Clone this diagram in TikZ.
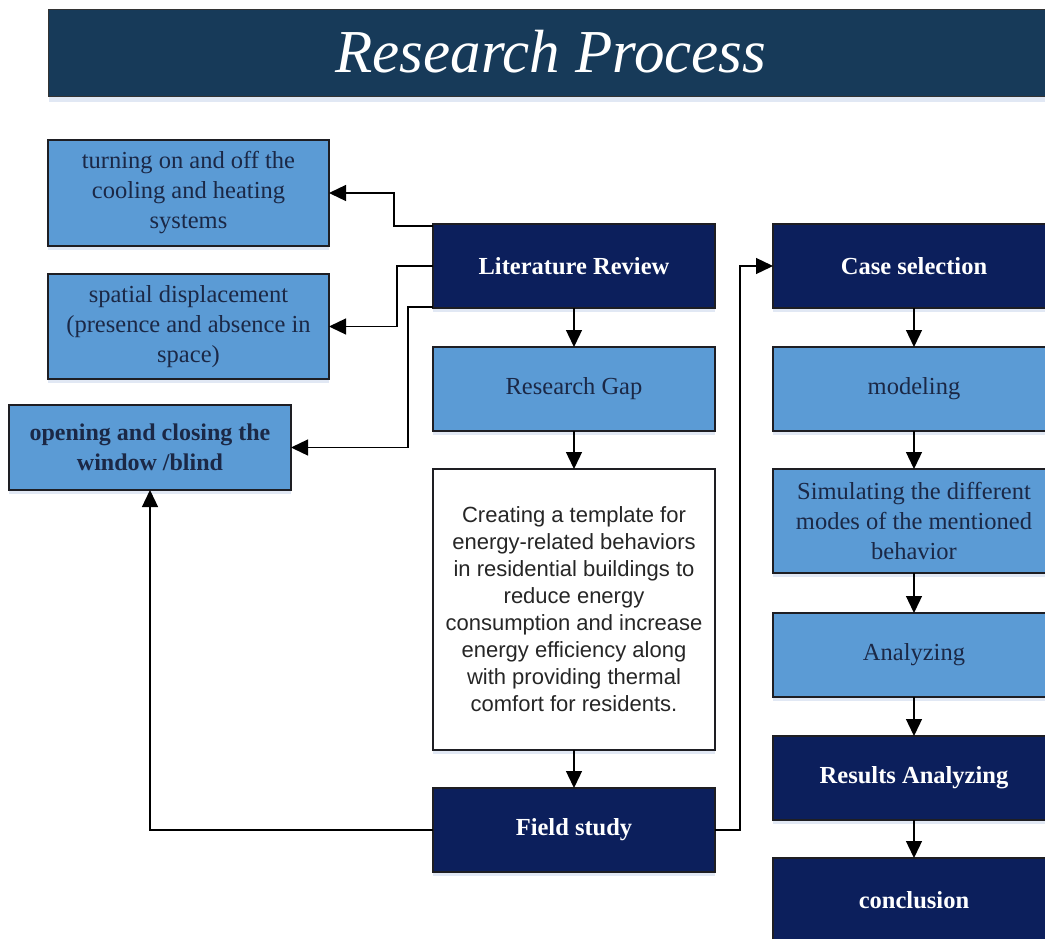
\documentclass[tikz,border=0pt]{standalone}
\usepackage{fontspec}
\setmainfont{Liberation Serif}
\newfontfamily\sansf{Liberation Sans}
\usetikzlibrary{arrows.meta,shadows,calc}
\definecolor{titlebar}{RGB}{23,58,89}
\definecolor{darkbox}{RGB}{12,31,92}
\definecolor{lightbox}{RGB}{91,155,213}
\definecolor{lighttext}{RGB}{27,40,70}
\definecolor{border}{RGB}{30,30,35}
\definecolor{shade}{RGB}{205,218,238}
\tikzset{
  box/.style={draw=border, line width=1.3pt, anchor=north west, inner sep=2pt, outer sep=0pt, align=center,
    drop shadow={shadow xshift=0pt, shadow yshift=-4pt, fill=shade, opacity=0.6}},
  darkb/.style={box, fill=darkbox, text=white, font=\fontsize{24.5}{30}\selectfont\bfseries},
  lightb/.style={box, fill=lightbox, text=lighttext, font=\fontsize{24.5}{30}\selectfont},
  whiteb/.style={box, fill=white, text=black!85, font=\sansf\fontsize{22}{27}\selectfont},
  arr/.style={draw=black, line width=1.3pt, -{Triangle[length=17pt,width=16pt]}}
}
\begin{document}
\begin{tikzpicture}[x=1pt,y=-1pt]
\useasboundingbox (0,0) rectangle (1045,938);
\clip (0,0) rectangle (1045,938);
\fill[white] (0,0) rectangle (1045,938);
% title
\node[draw=black!80, line width=1pt, fill=titlebar, anchor=north west, minimum width=1010pt, minimum height=87pt, inner sep=0pt,
  drop shadow={shadow xshift=0pt, shadow yshift=-5pt, fill=shade, opacity=0.6}] (title) at (48,9) {};
\node[text=white, font=\fontsize{61}{61}\selectfont\itshape] (titletext) at (551,52) {Research Process};
% left boxes
\node[lightb, minimum width=281pt, minimum height=106pt] (A) at (48,140) {turning on and off the\\cooling and heating\\systems};
\node[lightb, minimum width=281pt, minimum height=105pt] (B) at (48,274) {spatial displacement\\(presence and absence in\\space)};
\node[lightb, minimum width=282pt, minimum height=85pt, font=\fontsize{24}{30}\selectfont\bfseries] (C) at (9,405) {opening and closing the\\window /blind};
% middle column
\node[darkb, minimum width=282pt, minimum height=84pt] (lr) at (433,224) {Literature Review};
\node[lightb, minimum width=282pt, minimum height=84pt] (rg) at (433,347) {Research Gap};
\node[whiteb, minimum width=282pt, minimum height=281pt] (wb) at (433,469) {Creating a template for\\energy-related behaviors\\in residential buildings to\\reduce energy\\consumption and increase\\energy efficiency along\\with providing thermal\\comfort for residents.};
\node[darkb, minimum width=282pt, minimum height=84pt] (fs) at (433,788) {Field study};
% right column
\node[darkb, minimum width=282pt, minimum height=84pt] (cs) at (773,224) {Case selection};
\node[lightb, minimum width=282pt, minimum height=84pt] (mo) at (773,347) {modeling};
\node[lightb, minimum width=282pt, minimum height=104pt] (si) at (773,469) {Simulating the different\\modes of the mentioned\\behavior};
\node[lightb, minimum width=282pt, minimum height=84pt] (an) at (773,613) {Analyzing};
\node[darkb, minimum width=282pt, minimum height=84pt] (ra) at (773,736) {Results Analyzing};
\node[darkb, minimum width=282pt, minimum height=84pt] (co) at (773,858) {conclusion};
% connectors from literature review
\draw[arr] ([yshift=-2pt]lr.north west) -- ++(-39,0) |- (A.east);
\draw[arr] (lr.west) -- ++(-36,0) |- (B.east);
\draw[arr] ([yshift=1pt]lr.south west) -- ++(-25,0) |- (C.east);
% vertical flow
\draw[arr] (lr.south) -- (rg.north);
\draw[arr] (rg.south) -- (wb.north);
\draw[arr] (wb.south) -- (fs.north);
\draw[arr] (fs.west) -| (C.south);
\draw[arr] (fs.east) -- ++(25,0) |- (cs.west);
\draw[arr] (cs.south) -- (mo.north);
\draw[arr] (mo.south) -- (si.north);
\draw[arr] (si.south) -- (an.north);
\draw[arr] (an.south) -- (ra.north);
\draw[arr] (ra.south) -- (co.north);
\end{tikzpicture}
\end{document}
